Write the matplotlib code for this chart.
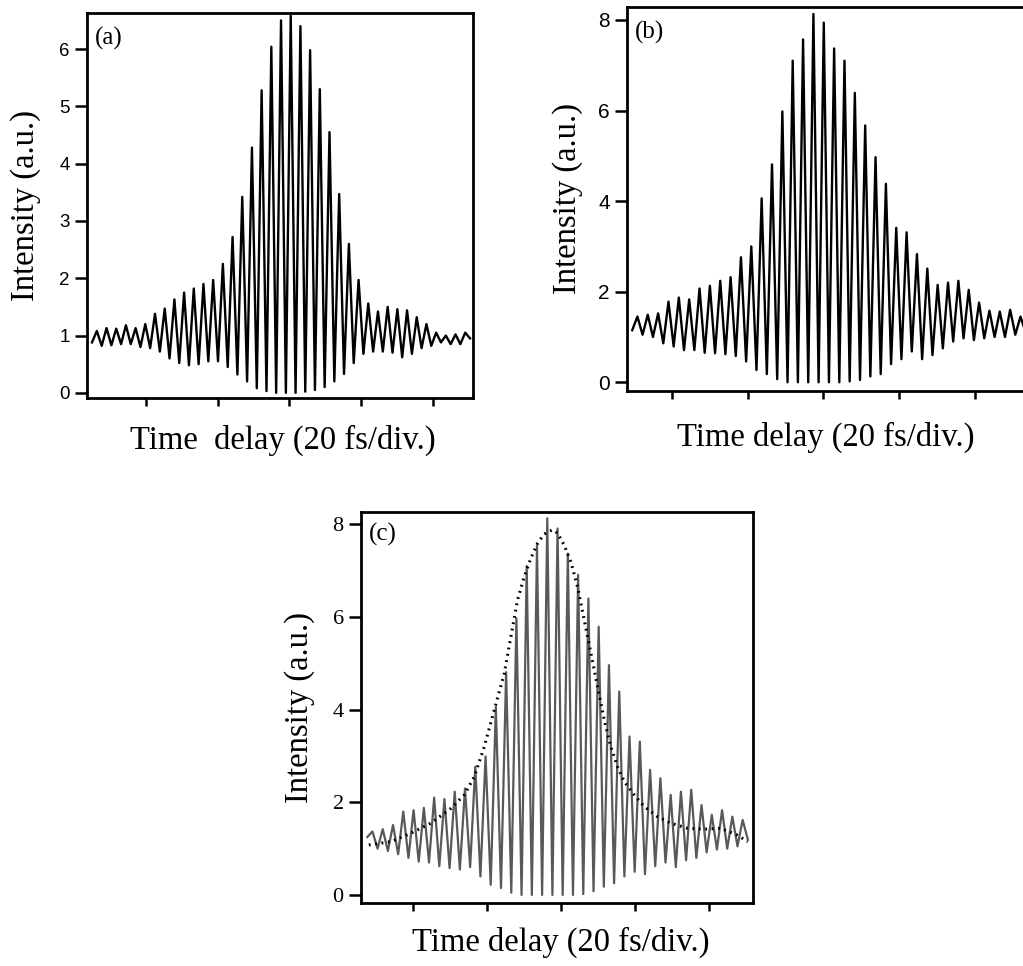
import numpy as np
import matplotlib
matplotlib.use("Agg")
import matplotlib.pyplot as plt

plt.rcParams['font.family'] = 'Liberation Serif'

# ---- panel (a): fringe extrema, alternating min / max, left to right ----
a_t_range = (-54.9, 50.2)  # fs
a_peaks = [1.08, 1.13, 1.12, 1.18, 1.13, 1.20, 1.38, 1.47, 1.63, 1.75, 1.82, 1.90, 1.97,
           2.25, 2.72, 3.42, 4.28, 5.28, 6.04, 6.50, 6.58, 6.40, 5.98, 5.30, 4.55, 3.47,
           2.60, 1.97, 1.56, 1.42, 1.50, 1.46, 1.44, 1.32, 1.20, 1.05, 1.00, 1.02, 1.05]
a_mins = [0.88, 0.82, 0.83, 0.85, 0.85, 0.80, 0.78, 0.72, 0.60, 0.52, 0.48, 0.50, 0.55,
          0.55, 0.45, 0.32, 0.20, 0.08, 0.03, 0.00, 0.00, 0.00, 0.02, 0.05, 0.10, 0.20,
          0.33, 0.52, 0.68, 0.72, 0.72, 0.70, 0.62, 0.68, 0.78, 0.82, 0.88, 0.85, 0.85, 0.95]

# ---- panel (b) ----
b_t_range = (-50.4, 53.3)
b_peaks = [1.45, 1.49, 1.52, 1.78, 1.87, 1.83, 2.07, 2.13, 2.24, 2.32, 2.76, 3.00, 4.06,
           4.81, 5.98, 7.10, 7.57, 8.13, 7.94, 7.37, 7.10, 6.39, 5.67, 4.97, 4.38, 3.41,
           3.31, 2.83, 2.51, 2.15, 2.20, 2.24, 2.04, 1.76, 1.58, 1.56, 1.60, 1.45]
b_mins = [1.15, 1.05, 1.00, 0.86, 0.79, 0.71, 0.71, 0.65, 0.64, 0.62, 0.58, 0.46, 0.27,
          0.18, 0.07, 0.00, 0.00, 0.00, 0.00, 0.00, 0.00, 0.02, 0.05, 0.13, 0.18, 0.40,
          0.51, 0.68, 0.51, 0.60, 0.75, 0.90, 0.97, 0.93, 0.97, 1.00, 1.00, 1.05, 1.10]

# ---- panel (c) ----
c_t_range = (-52.3, 50.5)
c_peaks = [1.37, 1.42, 1.51, 1.80, 1.83, 1.88, 2.10, 2.07, 2.23, 2.30, 2.77, 2.99, 4.06,
           4.81, 5.97, 7.10, 7.55, 8.13, 7.91, 7.37, 6.91, 6.40, 5.79, 4.96, 4.39, 3.42,
           3.31, 2.70, 2.52, 2.16, 2.23, 2.27, 1.94, 1.73, 1.83, 1.69, 1.62]
c_mins = [1.25, 1.00, 0.95, 0.88, 0.80, 0.72, 0.70, 0.62, 0.58, 0.55, 0.60, 0.40, 0.22,
          0.15, 0.05, 0.00, 0.00, 0.00, 0.00, 0.00, 0.00, 0.02, 0.08, 0.18, 0.25, 0.40,
          0.50, 0.45, 0.62, 0.70, 0.60, 0.75, 0.80, 0.92, 0.98, 1.00, 1.05, 1.20]

# envelope fit in (c), dotted
env_t = [-51.9, -46.0, -40.6, -35.1, -29.7, -26.1, -23.4, -20.7, -18.0, -15.3, -13.5,
         -11.7, -9.9, -8.1, -6.3, -4.5, -2.3, -0.9, 0.9, 2.7, 4.5, 6.3, 8.1, 9.9, 11.7,
         13.5, 15.3, 17.1, 19.8, 22.5, 26.1, 29.7, 34.2, 38.7, 43.2, 47.7, 50.5]
env_v = [1.08, 1.15, 1.33, 1.55, 1.87, 2.16, 2.55, 3.20, 3.99, 4.78, 5.58, 6.37, 6.87,
         7.27, 7.59, 7.79, 7.88, 7.81, 7.55, 7.19, 6.65, 5.94, 5.22, 4.50, 3.78, 3.20,
         2.77, 2.45, 2.16, 1.91, 1.69, 1.55, 1.44, 1.42, 1.44, 1.29, 1.15]


def trace(t_range, peaks, mins):
    vals = []
    for i, m in enumerate(mins):
        vals.append(m)
        if i < len(peaks):
            vals.append(peaks[i])
    t = np.linspace(t_range[0], t_range[1], len(vals))
    return t, np.array(vals)


def style_axes(ax, xlim, ylim, yticks, tick_font, tick_size):
    ax.set_xlim(*xlim)
    ax.set_ylim(*ylim)
    ax.set_xticks([-40, -20, 0, 20, 40])
    ax.set_xticklabels([])
    ax.set_yticks(yticks)
    ax.tick_params(axis='x', direction='out', length=5.5, width=1.8)
    ax.tick_params(axis='y', direction='out', length=8.5, width=1.8, pad=4)
    for lab in ax.get_yticklabels():
        lab.set_fontfamily(tick_font)
        lab.set_fontsize(tick_size)
    for s in ax.spines.values():
        s.set_linewidth(2)


def labels(ax, xtext, xcoords, ycoord):
    ax.set_ylabel('Intensity (a.u.)', fontsize=23.5, va='center')
    ax.yaxis.set_label_coords(ycoord, 0.5)
    ax.set_xlabel(xtext, fontsize=23.5, va='center')
    ax.xaxis.set_label_coords(*xcoords)


fig = plt.figure(figsize=(10.23, 9.66), dpi=100)

# (a)
ax = fig.add_axes([0.0850, 0.588, 0.3773, 0.3986])
t, v = trace(a_t_range, a_peaks, a_mins)
ax.plot(t, v, color='black', lw=1.7, solid_joinstyle='round')
style_axes(ax, (-56.3, 51.0), (-0.09, 6.63), range(0, 7), 'Liberation Sans', 13.5)
ax.text(0.02, 0.935, '(a)', transform=ax.transAxes, fontsize=18, va='center')
labels(ax, 'Time  delay (20 fs/div.)', (0.508, -0.109), -0.159)

# (b)
ax = fig.add_axes([0.6132, 0.5956, 0.392, 0.3969])
t, v = trace(b_t_range, b_peaks, b_mins)
ax.plot(t, v, color='black', lw=1.7, solid_joinstyle='round')
style_axes(ax, (-51.7, 54.0), (-0.185, 8.28), [0, 2, 4, 6, 8], 'Liberation Sans', 15)
ax.text(0.02, 0.935, '(b)', transform=ax.transAxes, fontsize=18, va='center')
labels(ax, 'Time delay (20 fs/div.)', (0.494, -0.121), -0.148)

# (c)
ax = fig.add_axes([0.3529, 0.0649, 0.3835, 0.4048])
t, v = trace(c_t_range, c_peaks, c_mins)
ax.plot(t, v, color='#595959', lw=1.6, solid_joinstyle='round')
ax.plot(env_t, env_v, color='black', lw=2.2, ls=(0, (0.6, 1.5)))
style_axes(ax, (-54.0, 52.0), (-0.18, 8.26), [0, 2, 4, 6, 8], 'Liberation Serif', 16)
ax.text(0.02, 0.942, '(c)', transform=ax.transAxes, fontsize=18, va='center')
labels(ax, 'Time delay (20 fs/div.)', (0.508, -0.099), -0.156)

fig.savefig('out.png', dpi=100)
